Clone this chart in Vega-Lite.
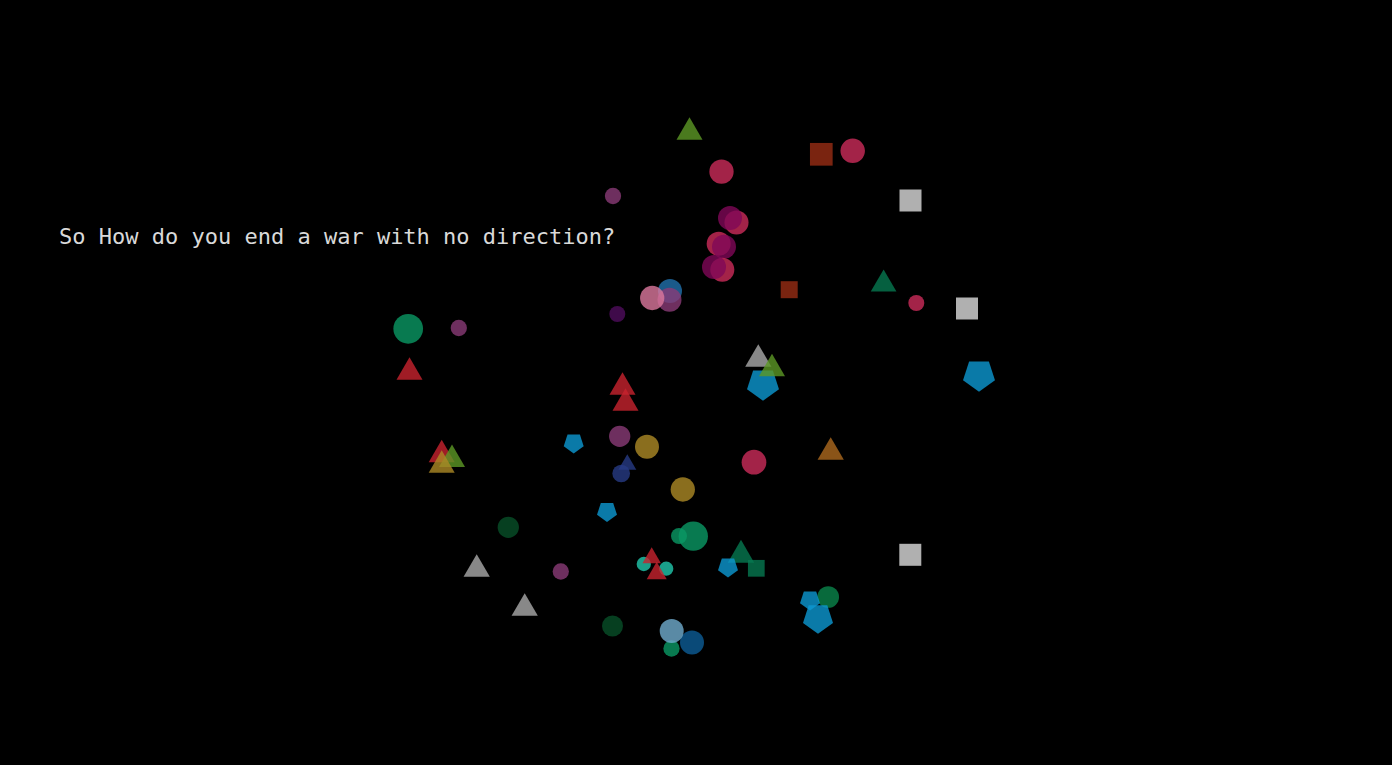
{
  "$schema": "https://vega.github.io/schema/vega-lite/v6.json",
  "width": 1392,
  "height": 765,
  "autosize": {"type": "fit", "contains": "padding"},
  "padding": 0,
  "background": "#000000",
  "config": {"view": {"stroke": null}},
  "datasets": {
    "pts": [
      {"x": 721.5, "y": 171.7, "v": 590, "g": "crimson", "k": "circle"},
      {"x": 852.7, "y": 150.8, "v": 600, "g": "crimson", "k": "circle"},
      {"x": 613, "y": 196, "v": 265, "g": "mauve", "k": "circle"},
      {"x": 736.5, "y": 222.5, "v": 580, "g": "crimson", "k": "circle"},
      {"x": 730, "y": 218, "v": 576, "g": "magenta", "k": "circle"},
      {"x": 718.7, "y": 243.7, "v": 580, "g": "crimson", "k": "circle"},
      {"x": 724, "y": 246.7, "v": 576, "g": "magenta", "k": "circle"},
      {"x": 722.3, "y": 269.7, "v": 580, "g": "crimson", "k": "circle"},
      {"x": 714, "y": 267, "v": 576, "g": "magenta", "k": "circle"},
      {"x": 670, "y": 291, "v": 576, "g": "blue", "k": "circle"},
      {"x": 669.5, "y": 299.7, "v": 576, "g": "mauve", "k": "circle"},
      {"x": 652.2, "y": 298, "v": 590, "g": "pink", "k": "circle"},
      {"x": 617.3, "y": 314, "v": 256, "g": "darkpurple", "k": "circle"},
      {"x": 916.3, "y": 303, "v": 256, "g": "crimson", "k": "circle"},
      {"x": 408.2, "y": 328.8, "v": 880, "g": "green", "k": "circle"},
      {"x": 458.8, "y": 328, "v": 265, "g": "mauve", "k": "circle"},
      {"x": 619.7, "y": 436.3, "v": 455, "g": "mauve", "k": "circle"},
      {"x": 647, "y": 446.7, "v": 576, "g": "gold", "k": "circle"},
      {"x": 621.2, "y": 473.5, "v": 313, "g": "navy", "k": "circle"},
      {"x": 682.8, "y": 489.5, "v": 590, "g": "gold", "k": "circle"},
      {"x": 754, "y": 462.2, "v": 610, "g": "crimson", "k": "circle"},
      {"x": 508.3, "y": 527.3, "v": 455, "g": "darkgreen", "k": "circle"},
      {"x": 693.3, "y": 536.2, "v": 860, "g": "green", "k": "circle"},
      {"x": 679, "y": 536, "v": 256, "g": "green", "k": "circle"},
      {"x": 560.8, "y": 571.5, "v": 265, "g": "mauve", "k": "circle"},
      {"x": 643.8, "y": 564, "v": 205, "g": "teal", "k": "circle"},
      {"x": 666.2, "y": 568.7, "v": 205, "g": "teal", "k": "circle"},
      {"x": 612.5, "y": 626, "v": 441, "g": "darkgreen", "k": "circle"},
      {"x": 692, "y": 642.5, "v": 576, "g": "darkblue", "k": "circle"},
      {"x": 671.5, "y": 648.5, "v": 265, "g": "green", "k": "circle"},
      {"x": 671.7, "y": 631, "v": 576, "g": "steel", "k": "circle"},
      {"x": 828.2, "y": 597, "v": 470, "g": "green2", "k": "circle"},
      {"x": 821.3, "y": 154.3, "v": 515, "g": "rust", "k": "square"},
      {"x": 910.5, "y": 200.5, "v": 484, "g": "lightgray", "k": "square"},
      {"x": 789.2, "y": 289.7, "v": 289, "g": "rust", "k": "square"},
      {"x": 967, "y": 308.5, "v": 484, "g": "lightgray", "k": "square"},
      {"x": 910.3, "y": 554.8, "v": 484, "g": "lightgray", "k": "square"},
      {"x": 689.5, "y": 128.5, "v": 676, "g": "olive", "k": "triangle"},
      {"x": 883.6, "y": 280.5, "v": 660, "g": "dkgreen", "k": "triangle"},
      {"x": 409.5, "y": 368.5, "v": 676, "g": "red", "k": "triangle"},
      {"x": 622.5, "y": 383.5, "v": 676, "g": "red", "k": "triangle"},
      {"x": 625.5, "y": 399.5, "v": 676, "g": "red", "k": "triangle"},
      {"x": 441.7, "y": 451, "v": 676, "g": "red", "k": "triangle"},
      {"x": 452, "y": 455.7, "v": 676, "g": "olive", "k": "triangle"},
      {"x": 441.7, "y": 461.5, "v": 676, "g": "gold", "k": "triangle"},
      {"x": 627.3, "y": 462, "v": 324, "g": "navy", "k": "triangle"},
      {"x": 830.7, "y": 448.5, "v": 690, "g": "brown", "k": "triangle"},
      {"x": 476.7, "y": 565.5, "v": 690, "g": "gray", "k": "triangle"},
      {"x": 524.7, "y": 604.5, "v": 690, "g": "gray", "k": "triangle"},
      {"x": 651.7, "y": 555.3, "v": 340, "g": "red", "k": "triangle"},
      {"x": 656.7, "y": 570.5, "v": 400, "g": "red", "k": "triangle"},
      {"x": 741, "y": 551.3, "v": 700, "g": "dkgreen", "k": "triangle"},
      {"x": 756.3, "y": 568.3, "v": 280, "g": "dkgreen", "k": "square"},
      {"x": 763, "y": 384, "v": 1130, "g": "pblue", "k": "pentagon"},
      {"x": 758.3, "y": 355.5, "v": 690, "g": "gray", "k": "triangle"},
      {"x": 772, "y": 365, "v": 676, "g": "olive", "k": "triangle"},
      {"x": 979, "y": 375, "v": 1130, "g": "pblue", "k": "pentagon"},
      {"x": 573.7, "y": 443, "v": 441, "g": "pblue", "k": "pentagon"},
      {"x": 607, "y": 511.5, "v": 441, "g": "pblue", "k": "pentagon"},
      {"x": 728, "y": 567, "v": 441, "g": "pblue", "k": "pentagon"},
      {"x": 810, "y": 600, "v": 441, "g": "pblue", "k": "pentagon"},
      {"x": 818, "y": 618, "v": 998, "g": "pblue", "k": "pentagon"}
    ],
    "label": [
      {"x": 59, "y": 244, "t": "So How do you end a war with no direction?"}
    ]
  },
  "layer": [
    {
      "data": {"name": "pts"},
      "mark": {"type": "point", "filled": true, "opacity": 0.8, "strokeWidth": 0},
      "encoding": {
        "x": {"field": "x", "type": "quantitative", "scale": {"domain": [0, 1392], "nice": false, "zero": false}, "axis": null},
        "y": {"field": "y", "type": "quantitative", "scale": {"domain": [0, 765], "nice": false, "zero": false, "reverse": true}, "axis": null},
        "size": {"field": "v", "type": "quantitative", "scale": {"type": "linear", "domain": [0, 1200], "range": [0, 1200]}, "legend": null},
        "color": {
          "field": "g", "type": "nominal", "legend": null,
          "scale": {
            "domain": ["crimson", "magenta", "mauve", "pink", "blue", "darkpurple", "green", "green2", "darkgreen", "gold", "navy", "teal", "steel", "darkblue", "olive", "dkgreen", "red", "gray", "lightgray", "rust", "brown", "pblue"],
            "range": ["#cc2c5a", "#800858", "#8a3b77", "#dc789e", "#2170ad", "#4f0d5d", "#0a9964", "#0a854b", "#084f28", "#ac8a26", "#273b85", "#20c8ac", "#70acce", "#0c5c96", "#5c9826", "#067850", "#c8232e", "#aaaaaa", "#dcdcdc", "#982d14", "#ac691e", "#0c98d2"]
          }
        },
        "shape": {
          "field": "k", "type": "nominal", "legend": null,
          "scale": {
            "domain": ["circle", "square", "triangle", "pentagon"],
            "range": ["circle", "square", "triangle-up", "M-0.588,-0.809L0.588,-0.809L0.951,0.309L0,1L-0.951,0.309Z"]
          }
        }
      }
    },
    {
      "data": {"name": "label"},
      "mark": {"type": "text", "align": "left", "baseline": "alphabetic", "font": "DejaVu Sans Mono", "fontSize": 22, "color": "#d9d9d9"},
      "encoding": {
        "x": {"field": "x", "type": "quantitative"},
        "y": {"field": "y", "type": "quantitative"},
        "text": {"field": "t", "type": "nominal"}
      }
    }
  ]
}
